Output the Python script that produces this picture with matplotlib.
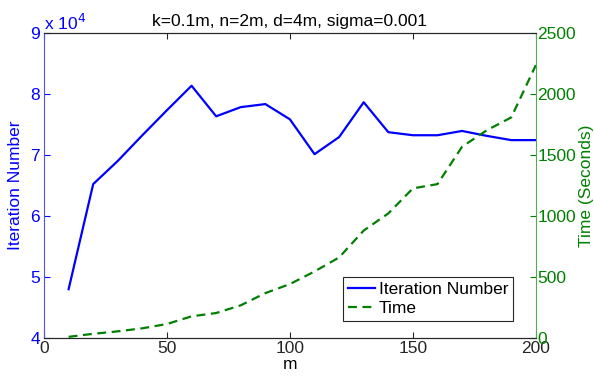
import matplotlib.pyplot as plt
import numpy as np

plt.rcParams['font.family'] = ['Liberation Sans', 'DejaVu Sans']
plt.rcParams['font.size'] = 12.5

m = [10, 20, 30, 40, 50, 60, 70, 80, 90, 100,
     110, 120, 130, 140, 150, 160, 170, 180, 190, 200]
iterations = [48000, 65200, 69000, 73200, 77300, 81300, 76300, 77800, 78300, 75800,
              70100, 72900, 78600, 73700, 73200, 73200, 73900, 73100, 72400, 72400]
time_sec = [10, 35, 55, 80, 115, 178, 205, 268, 368, 442,
            545, 660, 880, 1020, 1225, 1260, 1566, 1700, 1806, 2234]

fig = plt.figure(figsize=(5.94, 3.79), dpi=100)
ax1 = fig.add_axes([0.0741, 0.108, 0.828, 0.806])
ax2 = ax1.twinx()

blue = (0, 0, 1)
green = (0, 0.5, 0)

l1, = ax1.plot(m, iterations, color=blue, lw=1.6, label='Iteration Number')
l2, = ax2.plot(m, time_sec, color=green, lw=1.6, ls='--', dashes=(4, 2.5), label='Time')

ax1.set_xlim(0, 200)
ax1.set_ylim(40000, 90000)
ax1.set_xticks([0, 50, 100, 150, 200])
ax1.set_yticks(np.arange(40000, 90001, 10000))
ax1.yaxis.set_major_formatter(plt.FuncFormatter(lambda v, p: f"{v/1e4:g}"))
ax2.set_ylim(0, 2500)
ax2.set_yticks(np.arange(0, 2501, 500))

ax1.tick_params(axis='x', direction='in', top=True, colors='#262626', length=4, pad=2)
ax1.tick_params(axis='y', direction='in', colors=blue, length=4, pad=3)
ax2.tick_params(axis='y', direction='in', colors=green, length=4, pad=1)
ax2.tick_params(axis='x', top=False, bottom=False)

for ax in (ax1, ax2):
    ax.spines['top'].set_color('#262626')
    ax.spines['bottom'].set_color('#262626')
    ax.spines['left'].set_color('#5050ff')
    ax.spines['right'].set_color('#55aa55')
ax2.spines['left'].set_visible(False)
ax1.spines['right'].set_visible(False)

ax1.set_xlabel('m', labelpad=1)
ax1.set_ylabel('Iteration Number', color=blue, labelpad=5)
ax2.set_ylabel('Time (Seconds)', color=green, labelpad=2)
ax1.set_title('k=0.1m, n=2m, d=4m, sigma=0.001', fontsize=12.5, pad=5)
ax1.text(0.0, 1.0, r'x 10$^4$', transform=ax1.transAxes, color=blue,
         ha='left', va='bottom', fontsize=12.5)

leg = ax2.legend(handles=[l1, l2], loc='lower right', bbox_to_anchor=(0.953, 0.057),
                 fancybox=False, edgecolor='#262626', framealpha=1,
                 handlelength=1.6, handletextpad=0.2, borderpad=0.25,
                 labelspacing=0.25, borderaxespad=0)
leg.get_frame().set_linewidth(0.8)

fig.savefig('out.png', dpi=100)
